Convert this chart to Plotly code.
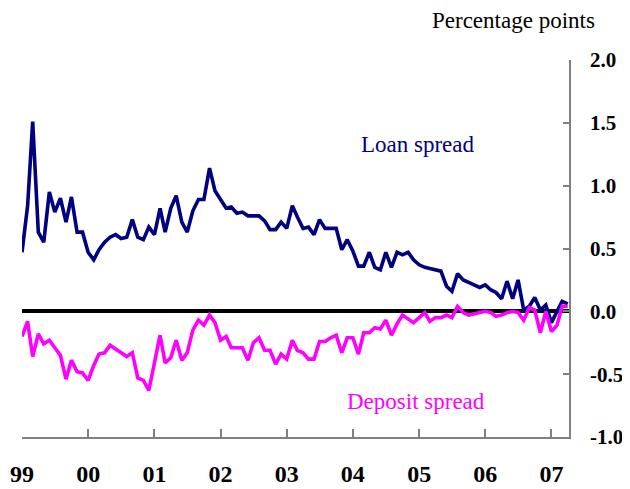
import plotly.graph_objects as go
import pandas as pd

loan_color = '#000080'
deposit_color = '#FF00FF'
axis_color = '#808080'
serif = 'Liberation Serif, Times New Roman, serif'

# monthly observations, Jan 1999 - Apr 2007
months = pd.date_range('1999-01-01', '2007-04-01', freq='MS')

loan_spread = [
    0.47, 0.84, 1.51, 0.63, 0.55, 0.95, 0.79, 0.90, 0.71, 0.91, 0.63, 0.63,
    0.47, 0.41, 0.49, 0.55, 0.59, 0.61, 0.58, 0.59, 0.73, 0.59, 0.57, 0.67,
    0.61, 0.82, 0.63, 0.82, 0.92, 0.71, 0.63, 0.80, 0.89, 0.89, 1.14, 0.96,
    0.89, 0.82, 0.83, 0.78, 0.79, 0.76, 0.76, 0.76, 0.72, 0.65, 0.65, 0.71,
    0.66, 0.84, 0.75, 0.66, 0.67, 0.61, 0.73, 0.66, 0.66, 0.66, 0.49, 0.57,
    0.48, 0.36, 0.36, 0.47, 0.35, 0.33, 0.47, 0.35, 0.47, 0.45, 0.47, 0.41,
    0.37, 0.35, 0.34, 0.33, 0.32, 0.20, 0.16, 0.30, 0.25, 0.23, 0.21, 0.19,
    0.21, 0.17, 0.15, 0.10, 0.24, 0.10, 0.25, 0.01, 0.04, 0.11, 0.01, 0.05,
    -0.09, 0.00, 0.08, 0.06,
]

deposit_spread = [
    -0.20, -0.08, -0.36, -0.18, -0.26, -0.23, -0.29, -0.35, -0.54, -0.39, -0.48, -0.49,
    -0.55, -0.43, -0.34, -0.33, -0.27, -0.30, -0.33, -0.36, -0.33, -0.53, -0.55, -0.63,
    -0.41, -0.19, -0.41, -0.37, -0.23, -0.39, -0.33, -0.15, -0.07, -0.11, -0.03, -0.09,
    -0.23, -0.20, -0.29, -0.29, -0.29, -0.39, -0.25, -0.21, -0.31, -0.31, -0.42, -0.34,
    -0.38, -0.23, -0.31, -0.33, -0.38, -0.38, -0.24, -0.24, -0.21, -0.19, -0.33, -0.21,
    -0.21, -0.34, -0.17, -0.17, -0.13, -0.14, -0.07, -0.19, -0.10, -0.03, -0.06, -0.09,
    -0.05, -0.01, -0.08, -0.05, -0.05, -0.03, -0.05, 0.04, -0.01, -0.03, -0.02, -0.01,
    0.00, -0.01, -0.04, -0.03, -0.01, 0.00, -0.01, -0.07, 0.03, 0.01, -0.17, 0.00,
    -0.16, -0.11, 0.04, 0.04,
]

year_ticks = pd.date_range('1999-01-01', '2007-01-01', freq='YS')
year_labels = ['99', '00', '01', '02', '03', '04', '05', '06', '07']
y_ticks = [-1.0, -0.5, 0.0, 0.5, 1.0, 1.5, 2.0]

loan_line = go.Scatter(
    x=months,
    y=loan_spread,
    mode='lines',
    line=dict(color=loan_color, width=3.6),
    showlegend=False)

deposit_line = go.Scatter(
    x=months,
    y=deposit_spread,
    mode='lines',
    line=dict(color=deposit_color, width=3.6),
    showlegend=False)

# page body adds an 8px margin, so the figure is 8px smaller each way
layout = go.Layout(
    width=622,
    height=481,
    margin=dict(l=14, r=61, t=52, b=52),
    paper_bgcolor='white',
    plot_bgcolor='white',
    font=dict(family=serif, color='black'),
    xaxis=dict(
        type='date',
        range=['1999-01-01', '2007-04-08'],
        tickvals=year_ticks,
        ticktext=[f'<b>{t}</b>' for t in year_labels],
        ticks='inside',
        ticklen=8,
        tickcolor=axis_color,
        tickwidth=1.5,
        showline=True,
        linecolor=axis_color,
        linewidth=1.5,
        showgrid=False,
        zeroline=False,
        automargin=False,
        tickfont=dict(size=24, family=serif),
        ticklabelstandoff=14),
    yaxis=dict(
        side='right',
        range=[-1.0, 2.0],
        tickvals=y_ticks,
        ticktext=[f'<b>{v:.1f}</b>' for v in y_ticks],
        ticks='inside',
        ticklen=6,
        tickcolor=axis_color,
        tickwidth=1.5,
        showline=True,
        linecolor=axis_color,
        linewidth=1.5,
        showgrid=False,
        zeroline=True,
        zerolinecolor='black',
        zerolinewidth=4,
        automargin=False,
        tickfont=dict(size=21, family=serif),
        ticklabelstandoff=15),
    annotations=[
        dict(text='Percentage points', xref='paper', yref='paper', x=0.898, y=1.106,
             xanchor='center', yanchor='middle',
             showarrow=False, font=dict(size=23, color='black')),
        dict(text='Loan spread', xref='paper', yref='paper', x=0.724, y=0.775,
             xanchor='center', yanchor='middle',
             showarrow=False, font=dict(size=23, color=loan_color)),
        dict(text='Deposit spread', xref='paper', yref='paper', x=0.72, y=0.095,
             xanchor='center', yanchor='middle',
             showarrow=False, font=dict(size=23, color=deposit_color)),
    ])

fig = go.Figure(data=[loan_line, deposit_line], layout=layout)
fig.write_html('out.html')
